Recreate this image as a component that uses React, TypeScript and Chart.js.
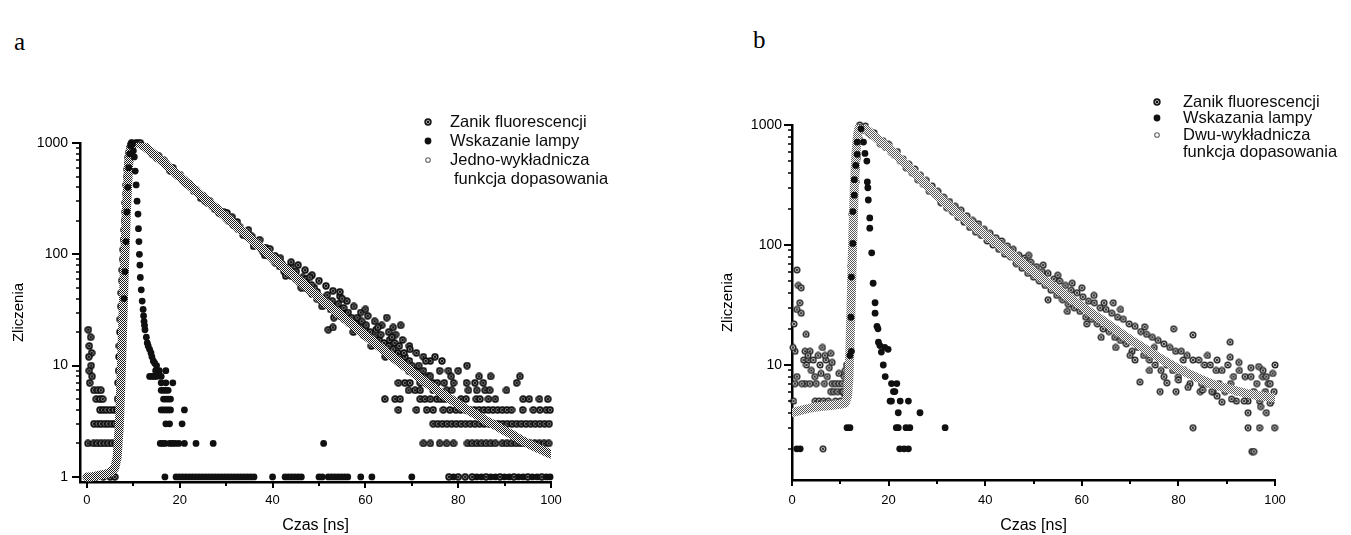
import React, { useEffect, useRef } from "react";
import { Chart, registerables } from "chart.js";

Chart.register(...registerables);
Chart.defaults.font.family = '"Liberation Sans", Arial, sans-serif';
Chart.defaults.color = "#000";

// ---------------- shared tick / label data ----------------
const xTickLabels = [0, 20, 40, 60, 80, 100];
const xMinorTicks = [10, 30, 50, 70, 90];
const yTickLabelsA = [1, 10, 100, 1000];
const yTickLabelsB = [10, 100, 1000];
const yMinorTicksA = [2, 3, 4, 5, 6, 7, 8, 9, 20, 30, 40, 50, 60, 70, 80, 90, 200, 300, 400, 500, 600, 700, 800, 900];
const yMinorTicksB = [2, 3, 4, 5, 6, 7, 8, 9, 20, 30, 40, 50, 60, 70, 80, 90, 200, 300, 400, 500, 600, 700, 800, 900];
const xTitle = "Czas [ns]";
const yTitle = "Zliczenia";
const legendA = ["Zanik fluorescencji", "Wskazanie lampy", "Jedno-wykładnicza", "funkcja dopasowania"];
const legendB = ["Zanik fluorescencji", "Wskazania lampy", "Dwu-wykładnicza", "funkcja dopasowania"];

// ---------------- panel a data ----------------
const fitA: [number, number][] = [
  [0, 1.0], [1, 1.0], [2, 1.02], [3, 1.04], [4, 1.06], [5, 1.1], [6, 1.2], [6.5, 1.5], [7, 3], [7.5, 12], [8, 60],
  [8.5, 250], [9, 650], [9.5, 920], [10, 1000], [11, 1000], [12, 960], [13, 890], [14, 820], [16, 700], [18, 590],
  [20, 500], [22, 420], [24, 355], [26, 300], [28, 255], [30, 215], [32, 182], [34, 155], [36, 130], [38, 110],
  [40, 93], [42, 79], [44, 67], [46, 57], [48, 48], [50, 41], [52, 35], [54, 30], [56, 25.5], [58, 21.8], [60, 18.6],
  [62, 16], [64, 13.7], [66, 11.8], [68, 10.2], [70, 8.8], [72, 7.6], [74, 6.6], [76, 5.8], [78, 5.1], [80, 4.5],
  [82, 4], [84, 3.6], [86, 3.2], [88, 2.9], [90, 2.6], [92, 2.35], [94, 2.1], [96, 1.9], [98, 1.75], [100, 1.6],
];

const decayA: [number, number][] = [
  [0.3, 21], [0.8, 18], [0.5, 15], [1, 13], [0.4, 12], [0.9, 10], [0.5, 9], [1.1, 8], [0.6, 7],
  [1.5, 6], [2.3, 6], [3, 6], [2, 5], [2.8, 5], [3.4, 5],
  [2.8, 4], [3.5, 4], [4.2, 4], [5, 4], [5.8, 4], [6.5, 4],
  [1.5, 3], [2.3, 3], [3, 3], [3.8, 3], [4.5, 3], [5.3, 3], [6, 3], [6.8, 3],
  [0.2, 2], [1.4, 2], [2.2, 2], [3, 2], [3.8, 2], [4.6, 2], [5.4, 2], [6.2, 2],
  [1, 1], [2, 1], [3.5, 1], [5, 1], [6, 1],
  [6.6, 5], [6.7, 7], [6.8, 9], [6.9, 12], [7, 15], [7.1, 20], [7.2, 26], [7.3, 34], [7.4, 45], [7.5, 58],
  [7.6, 72], [7.7, 90], [7.8, 110], [7.9, 135], [8, 165], [8.1, 200], [8.2, 240], [8.3, 290], [8.4, 350],
  [8.5, 420], [8.6, 500], [8.7, 580], [8.8, 660], [8.9, 740], [9, 820], [9.2, 900], [9.4, 960], [9.6, 990],
  [10, 980], [10.5, 1000], [11, 990], [11.5, 1000], [12, 940], [12.5, 930], [13, 880], [13.5, 850], [14, 800],
  [14.5, 790], [15, 740], [15.5, 760], [16, 690], [16.5, 700], [17, 660], [17.5, 610], [18, 560], [18.5, 600],
  [19, 530], [19.5, 510], [20, 520], [20.5, 470], [21, 450], [21.5, 430], [22, 430], [22.5, 400], [23, 370],
  [23.5, 380], [24, 350], [24.5, 320], [25, 335], [25.5, 300], [26, 290], [26.5, 300], [27, 270], [27.5, 255],
  [28, 260], [28.5, 235], [29, 230], [29.5, 240], [30, 210], [30.5, 200], [31, 205], [31.5, 185], [32, 180],
  [32.5, 170], [33, 175], [33.5, 160], [34, 150], [34.5, 145], [35, 140], [35.5, 145], [36, 125], [36.5, 122],
  [37, 125], [37.5, 112], [38, 105], [38.5, 115], [39, 98], [39.5, 95], [40, 90], [40.5, 97], [41, 84], [41.5, 78],
  [42, 82], [42.5, 70], [43, 75], [43.5, 66], [44, 64], [44.5, 70], [45, 60], [45.5, 58], [46, 55], [46.5, 62],
  [47, 50], [47.5, 53], [48, 47], [48.5, 44], [49, 50], [49.5, 40], [50, 42], [50.5, 38], [51, 40], [51.5, 35],
  [52, 37], [52.5, 32], [53, 34], [53.5, 30], [54, 33], [54.5, 28], [55, 30], [55.5, 26], [56, 28], [56.5, 24],
  [57, 27], [57.5, 22], [58, 24], [58.5, 21], [59, 23], [59.5, 19], [60, 21], [60.5, 18], [61, 20], [61.5, 17],
  [62, 18], [62.5, 16], [63, 17], [63.5, 15], [64, 16], [64.5, 14], [65, 15], [65.5, 13], [66, 14], [66.5, 12],
  [67, 13], [67.5, 12], [68, 11], [68.5, 12], [69, 10], [69.5, 11], [70, 10],
  [30.2, 235], [31.3, 215], [32.4, 195], [33.6, 150], [34.8, 165], [35.9, 118], [37.2, 135], [38.3, 98],
  [39.4, 112], [40.6, 84], [41.7, 92], [42.8, 64], [43.9, 78], [45.1, 70], [46.2, 50], [47.3, 60], [48.4, 53],
  [49.6, 46], [50.7, 34], [51.8, 43], [52.9, 38], [53.2, 27], [54.2, 36], [55.3, 33], [56.3, 30], [57.4, 20],
  [58.3, 27], [59.2, 25], [60.2, 23], [61.3, 15], [62.3, 21], [63.3, 19], [64.3, 12], [65.2, 17], [66.3, 16],
  [67.3, 15], [68.3, 13], [69.3, 9],
  [44, 85], [45.5, 80], [47, 72], [48.5, 65], [50, 58], [51.5, 52], [53, 47], [54.5, 42], [56, 38], [57.5, 34],
  [59, 30], [60.5, 28], [62, 25], [63.5, 23], [65, 20], [66.5, 19], [68, 17], [69.5, 15], [71, 13], [72.5, 12],
  [74, 11], [48, 62], [55, 40], [60, 32], [66, 22],
  [52, 21], [54.5, 46], [52, 35], [53, 22], [62.7, 22], [64.6, 27], [67.6, 23], [65.7, 18], [69.6, 14], [75, 12],
  [81.9, 10], [77.9, 9], [87, 8], [93.3, 8], [92.6, 7], [90.4, 6], [84.5, 8], [71, 9], [72, 8], [73.5, 8], [76.5, 11],
  [70.5, 9], [71.5, 10], [72.5, 9], [73, 11], [74, 8], [76, 9], [78.5, 8], [80, 9],
  [67.1, 7], [68.5, 7], [69.6, 7], [71.8, 7], [73, 7], [74.5, 7], [75.5, 7], [77, 7], [79, 7], [81.8, 7], [83.6, 7], [85.4, 7],
  [69.3, 6], [70.7, 6], [71.8, 6], [74.6, 6], [77.5, 6], [78.6, 6], [82.2, 6], [84, 6], [85.8, 6], [86.8, 6],
  [64.2, 5], [66.4, 5], [67.5, 5], [71.8, 5], [72.8, 5], [74, 5], [75.4, 5], [76.2, 5], [77, 5], [77.8, 5], [78.6, 5],
  [80.6, 5], [81.7, 5], [83.9, 5], [84.7, 5], [86.5, 5], [88, 5], [94, 5], [95.3, 5], [97.5, 5], [99.3, 5],
  [67.1, 4], [71, 4], [73.2, 4], [74.6, 4], [76.8, 4], [78.2, 4], [79.5, 4], [80.5, 4], [81.5, 4], [82.5, 4],
  [83.5, 4], [84.5, 4], [85.5, 4], [86.5, 4], [87.5, 4], [88.5, 4], [89.5, 4], [90.5, 4], [91.5, 4], [93.9, 4],
  [96.2, 4], [97.6, 4], [99, 4], [99.8, 4],
  [74.6, 3], [75.6, 3], [76.6, 3], [77.6, 3], [78.6, 3], [79.6, 3], [80.6, 3], [81.6, 3], [82.6, 3], [83.6, 3],
  [84.6, 3], [85.6, 3], [86.6, 3], [87.6, 3], [88.6, 3], [89.6, 3], [90.6, 3], [91.6, 3], [92.6, 3], [93.6, 3],
  [94.6, 3], [95.6, 3], [96.6, 3], [97.6, 3], [98.6, 3], [99.6, 3],
  [72.5, 2], [74, 2], [76, 2], [77.5, 2], [79, 2], [82, 2], [83, 2], [84, 2], [85, 2], [86, 2], [87, 2], [88, 2],
  [89.5, 2], [90.5, 2], [91.5, 2], [92.5, 2], [93.5, 2], [94.5, 2], [95.5, 2], [96.5, 2], [97.5, 2], [98.5, 2], [99.5, 2],
  [78, 1], [80, 1], [81.5, 1], [83, 1], [86, 1], [89, 1], [92, 1], [95, 1], [98, 1],
];

const lampA: [number, number][] = [
  [8, 40], [8.2, 70], [8.4, 130], [8.6, 240], [8.8, 400], [9, 600], [9.2, 800], [9.4, 950], [9.6, 1000], [9.8, 980],
  [10, 850], [10.2, 750], [10.4, 560], [10.6, 420], [10.8, 300], [11, 230], [11.1, 170], [11.2, 130], [11.3, 100],
  [11.4, 80], [11.5, 62], [11.7, 48], [11.9, 38], [12.1, 32], [12.2, 28], [12.3, 25], [12.4, 23], [12.5, 21],
  [12.8, 18], [13, 16], [13.2, 15], [13.5, 14], [13.8, 13], [14, 12], [14.3, 11], [14.6, 10.5], [15, 10], [14.8, 9], [15.6, 9],
  [13.5, 8], [14, 8], [14.5, 8], [15, 8], [16, 8], [17, 9], [16, 7], [17, 7], [18.5, 7], [16, 6], [16.5, 6], [17, 6],
  [17.5, 6], [16.5, 5], [17, 5], [17.5, 5], [18, 5], [16, 4], [16.5, 4], [17, 4], [17.5, 4], [18, 4], [21, 4],
  [17, 3], [17.8, 3], [20.5, 3], [15.8, 2], [16.3, 2], [16.8, 2], [17.8, 2], [18.4, 2], [19, 2], [19.8, 2], [21, 2],
  [23.5, 2], [27.2, 2], [51, 2],
  [16.8, 1], [19.2, 1], [19.9, 1], [20.6, 1], [21.3, 1], [22, 1], [22.7, 1], [23.4, 1], [24.1, 1], [24.8, 1],
  [25.5, 1], [26.2, 1], [26.9, 1], [27.6, 1], [28.3, 1], [29, 1], [29.7, 1], [30.4, 1], [31.1, 1], [31.8, 1],
  [32.5, 1], [33.2, 1], [33.9, 1], [34.6, 1], [35.3, 1], [36, 1], [40, 1], [42.7, 1], [43.4, 1], [44.1, 1],
  [44.8, 1], [45.5, 1], [46.2, 1], [50, 1], [50.7, 1], [52, 1], [52.7, 1], [53.4, 1], [54.1, 1], [54.8, 1],
  [55.5, 1], [56.2, 1], [59, 1], [61.4, 1], [70, 1], [79, 1], [84, 1], [85, 1], [87, 1], [88, 1], [90, 1],
  [91, 1], [93, 1], [94, 1], [96, 1], [97, 1], [99, 1], [99.8, 1],
];

// ---------------- panel b data ----------------
const fitB: [number, number][] = [
  [0, 4], [2, 4.2], [4, 4.4], [6, 4.5], [8, 4.6], [10, 4.7], [11, 4.8], [11.5, 5.5], [11.8, 8], [12, 14],
  [12.3, 40], [12.6, 120], [12.9, 300], [13.2, 550], [13.5, 780], [13.8, 930], [14.2, 1000], [14.8, 960],
  [15.5, 910], [16, 880], [17, 810], [18, 750], [19, 690], [20, 650], [22, 540], [24, 450], [26, 375], [28, 310],
  [30, 260], [32, 220], [34, 188], [36, 162], [38, 140], [40, 122], [42, 106], [44, 92], [46, 80], [48, 69],
  [50, 60], [52, 52], [54, 45.5], [56, 40], [58, 35], [60, 31], [62, 27], [64, 24], [66, 21], [68, 18.5],
  [70, 16.3], [72, 14.5], [74, 12.9], [76, 11.5], [78, 10.3], [80, 9.3], [82, 8.5], [84, 7.8], [86, 7.2],
  [88, 6.7], [90, 6.4], [92, 6.1], [94, 5.8], [96, 5.6], [98, 5.45], [100, 5.3],
];

const decayB: [number, number][] = [
  [0.4, 22], [0.6, 13], [1, 62], [1, 29], [1.3, 46], [1.6, 33], [1.9, 44], [1.9, 27], [2.9, 18], [2.7, 13],
  [3.7, 13], [2.4, 11], [3.4, 11], [4.4, 11], [5.4, 12], [6.3, 14], [8, 12.5], [8.3, 10.5], [7, 11], [4, 9],
  [4.7, 8], [6, 8.5], [7.7, 9.5], [9.7, 8.5], [0.6, 7], [2.7, 7], [3.7, 7], [5, 7], [6.7, 7], [8.3, 7], [9, 7],
  [9.7, 7], [10.4, 7], [8, 6], [8.6, 6], [9.4, 6], [10.3, 6], [4.8, 5], [5.6, 5], [6.5, 5], [7.5, 5], [9, 5],
  [10, 5], [11, 5.5], [0.3, 5], [2, 7], [3, 10], [5.8, 10], [7.3, 8], [10.8, 8], [11, 9], [10.6, 6], [11.3, 10],
  [6.4, 2], [1, 8], [0.2, 14], [3.3, 12], [6.8, 12],
  [11.6, 7], [11.8, 10], [12, 12], [12, 20], [12.2, 33], [12.3, 50], [12.3, 67], [12.5, 95], [12.6, 106],
  [12.5, 180], [12.9, 180], [12.9, 240], [13.2, 335], [13.3, 430], [13.5, 530], [13.5, 690], [13.8, 780],
  [13.8, 930], [14, 1000],
  [14.6, 900], [15.2, 980], [15.8, 860], [16.4, 820], [17, 860], [17.6, 760], [18.2, 700], [18.8, 740], [19.4, 650],
  [20, 690], [20.6, 590], [21.2, 560], [21.8, 600], [22.4, 500], [23, 520], [23.6, 440], [24.2, 470], [24.8, 400],
  [25.4, 430], [26, 350], [26.6, 380], [27.2, 320], [27.8, 345], [28.4, 280], [29, 310], [29.6, 265], [30.2, 280],
  [30.8, 225], [31.4, 250], [32, 205], [32.6, 230], [33.2, 190], [33.8, 210], [34.4, 170], [35, 195], [35.6, 155],
  [36.2, 175], [36.8, 140], [37.4, 160], [38, 128], [38.6, 150], [39.2, 120], [39.8, 135], [40.4, 108], [41, 125],
  [41.6, 100], [42.2, 115], [42.8, 92], [43.4, 108], [44, 84], [44.6, 98], [45.2, 80], [45.8, 92], [46.4, 70],
  [47, 82], [47.6, 64], [48.2, 78], [48.8, 58], [49.4, 72], [50, 54], [50.6, 66], [51.2, 50], [51.8, 60],
  [52.4, 46], [53, 58], [53.6, 42], [54.2, 52], [54.8, 38], [55.4, 50], [56, 35], [56.6, 46], [57.2, 32],
  [57.8, 42], [58.4, 30], [59, 40], [59.6, 28], [60.2, 37], [60.8, 25], [61.4, 34], [62, 24], [62.6, 33],
  [63.2, 22], [63.8, 30], [64.4, 20], [65, 29], [65.6, 19], [66.2, 27], [66.8, 17], [67.4, 25], [68, 16],
  [68.6, 24], [69.2, 15], [69.8, 22], [70.4, 13], [71, 21], [71.6, 14], [72.2, 19], [72.8, 12], [73.4, 18],
  [74, 11], [74.6, 17], [75.2, 10], [75.8, 16], [76.4, 9], [77, 15], [77.6, 10], [78.2, 14], [78.8, 9], [79.4, 13],
  [80, 8], [80.6, 13], [81.2, 9], [81.8, 12], [82.4, 7], [83, 11], [83.6, 8], [84.2, 11], [84.8, 7], [85.4, 10],
  [86, 7], [86.6, 10], [87.2, 6], [87.8, 9], [88.4, 7], [89, 9], [89.6, 6], [90.2, 10], [90.8, 7], [91.4, 8],
  [92, 6], [92.6, 9], [93.2, 6], [93.8, 8], [94.4, 5], [95, 8], [95.6, 6], [96.2, 7], [96.8, 5], [97.4, 8],
  [98, 6], [98.6, 7], [99.2, 5], [99.8, 6],
  [49, 82], [52, 68], [55, 56], [58, 48], [60, 44], [62.5, 38], [64.6, 33], [66.5, 33], [68, 29], [71, 11],
  [72, 7.2], [73, 20.8], [76.2, 6], [77.6, 7.1], [79, 20], [79.5, 6], [83, 17.8], [83, 3], [84.5, 6], [86.9, 6],
  [89, 4.9], [90.7, 11.6], [90.7, 15.5], [92, 5], [93.6, 5], [94.4, 4], [94.4, 3], [95.2, 1.9], [95.6, 1.9],
  [96.6, 9.7], [96.8, 3], [98.2, 4], [98.2, 8], [99, 7], [99.9, 3], [100, 10], [75, 14], [81, 11], [86, 12],
  [88, 11], [92.5, 10.5], [95, 9.5], [97.5, 9], [99.5, 8.5], [53, 35], [57, 28], [61, 22], [64, 17], [67, 14],
  [70, 12], [74, 9], [77, 8], [80, 7.5], [82, 6.5], [85, 6.2], [88, 5.5], [91, 5.2], [94, 5.6], [97, 4.5], [99, 4.8],
];

const lampB: [number, number][] = [
  [1, 2], [1.7, 2], [11.4, 3], [12, 3], [12, 12], [12.2, 25], [12.3, 13], [12.3, 54], [12.6, 103], [12.6, 190],
  [12.9, 260], [12.9, 350], [13.2, 460], [13.5, 570], [13.5, 720], [14.3, 930], [14.8, 720], [15.1, 580],
  [15.5, 500], [15.6, 335], [15.7, 300], [15.8, 237], [16.1, 168], [16.1, 138], [16.5, 86], [16.8, 48],
  [17.2, 33], [17.2, 27], [17.6, 21], [17.8, 20], [17.9, 15.5], [18.2, 14.5], [18.5, 12.8], [19.2, 14],
  [19.9, 13.5], [18.9, 10], [19.3, 8], [20.6, 7], [21.7, 7], [21, 6], [21.3, 6], [20.3, 5], [20.6, 5],
  [22.4, 5], [24.1, 5], [22, 4], [26.5, 4], [21.6, 3], [22, 3], [23.6, 3], [24.4, 3], [31.7, 3],
  [22.3, 2], [23.2, 2], [24.1, 2],
];

// ---------------- helpers ----------------
type Pair = [number, number];
const toPts = (a: Pair[]) => a.map(([x, y]) => ({ x, y }));

function makeDecaySymbol(dark: boolean): HTMLCanvasElement {
  const c = document.createElement("canvas");
  c.width = 8;
  c.height = 8;
  const g = c.getContext("2d")!;
  g.fillStyle = dark ? "#8a8a8a" : "#b8b8b8";
  g.strokeStyle = dark ? "#0e0e0e" : "#1e1e1e";
  g.lineWidth = dark ? 1.6 : 1.3;
  g.beginPath();
  g.arc(4, 4, 2.9, 0, Math.PI * 2);
  g.fill();
  g.stroke();
  g.lineWidth = 1;
  g.strokeStyle = dark ? "#111" : "#333";
  g.beginPath();
  g.moveTo(2.6, 2.6);
  g.lineTo(5.4, 5.4);
  g.moveTo(5.4, 2.6);
  g.lineTo(2.6, 5.4);
  g.stroke();
  return c;
}

function makeBandPattern(ctx: CanvasRenderingContext2D, dark: boolean): CanvasPattern {
  const c = document.createElement("canvas");
  c.width = 2;
  c.height = 2;
  const g = c.getContext("2d")!;
  g.fillStyle = "#ffffff";
  g.fillRect(0, 0, 2, 2);
  g.fillStyle = dark ? "#1e1e1e" : "#5a5a5a";
  g.fillRect(0, 0, 1, 1);
  g.fillRect(1, 1, 1, 1);
  return ctx.createPattern(c, "repeat")!;
}

type PanelSpec = {
  fit: Pair[];
  decay: Pair[];
  lamp: Pair[];
  legend: string[];
  dark: boolean;
  xMin: number;
  yMin: number;
  yTicks: number[];
  yMinor: number[];
  yAxisW: number;
  xAxisH: number;
  padTop: number;
  padRight: number;
  yLabelPad: number;
  xLabelPad: number;
  yTitlePad: number;
  bandW: number;
};

function tickMarks(p: PanelSpec) {
  return {
    id: "tickMarks",
    afterDraw(chart: any) {
      const { ctx, chartArea } = chart;
      const xs = chart.scales.x;
      const ys = chart.scales.y;
      ctx.save();
      ctx.strokeStyle = "#000";
      ctx.lineWidth = 2;
      ctx.beginPath();
      for (const v of xTickLabels) {
        const px = Math.round(xs.getPixelForValue(v));
        ctx.moveTo(px, chartArea.bottom);
        ctx.lineTo(px, chartArea.bottom + 6);
      }
      for (const v of xMinorTicks) {
        const px = Math.round(xs.getPixelForValue(v));
        ctx.moveTo(px, chartArea.bottom);
        ctx.lineTo(px, chartArea.bottom + 4);
      }
      for (const v of p.yTicks) {
        const py = Math.round(ys.getPixelForValue(v));
        ctx.moveTo(chartArea.left, py);
        ctx.lineTo(chartArea.left - 8, py);
      }
      ctx.stroke();
      ctx.lineWidth = 1.5;
      ctx.beginPath();
      for (const v of p.yMinor) {
        if (v < p.yMin) continue;
        const py = Math.round(ys.getPixelForValue(v));
        ctx.moveTo(chartArea.left, py);
        ctx.lineTo(chartArea.left - 4, py);
      }
      ctx.stroke();
      ctx.restore();
    },
  };
}

function buildChart(canvas: HTMLCanvasElement, p: PanelSpec) {
  const ctx = canvas.getContext("2d")!;
  const pattern = makeBandPattern(ctx, p.dark);
  const decaySym = makeDecaySymbol(p.dark);
  return new Chart(canvas, {
    type: "scatter",
    data: {
      datasets: [
        {
          label: p.legend[1],
          data: toPts(p.lamp),
          pointStyle: "circle",
          pointRadius: 3.4,
          backgroundColor: "#101010",
          borderWidth: 0,
          order: 0,
          clip: false,
        },
        {
          label: p.legend[2] + " " + p.legend[3],
          data: toPts(p.fit),
          showLine: true,
          borderColor: pattern,
          borderWidth: p.bandW,
          borderCapStyle: "round",
          borderJoinStyle: "round",
          tension: 0,
          pointRadius: 0,
          order: 1,
        },
        {
          label: p.legend[0],
          data: toPts(p.decay),
          pointStyle: decaySym,
          pointRadius: 4,
          order: 2,
          clip: false,
        },
      ] as any,
    },
    options: {
      animation: false,
      responsive: false,
      devicePixelRatio: 1,
      events: [],
      layout: { padding: { left: 0, right: p.padRight, top: p.padTop, bottom: 0 } },
      plugins: { legend: { display: false }, tooltip: { enabled: false } },
      scales: {
        x: {
          type: "linear",
          min: p.xMin,
          max: 100,
          afterBuildTicks: (s: any) => {
            s.ticks = xTickLabels.map((v) => ({ value: v }));
          },
          afterFit: (s: any) => {
            s.height = p.xAxisH;
          },
          ticks: {
            autoSkip: false,
            maxRotation: 0,
            padding: p.xLabelPad,
            font: { size: 13 },
            color: "#000",
            callback: (v: any) => String(v),
          },
          grid: { display: false, drawTicks: false },
          border: { display: true, color: "#000", width: 2.5 },
          title: {
            display: true,
            text: xTitle,
            font: { size: 16 },
            color: "#000",
            padding: { top: 0, bottom: 0 },
          },
        },
        y: {
          type: "logarithmic",
          min: p.yMin,
          max: 1000,
          afterBuildTicks: (s: any) => {
            s.ticks = p.yTicks.map((v) => ({ value: v }));
          },
          afterFit: (s: any) => {
            s.width = p.yAxisW;
          },
          ticks: {
            autoSkip: false,
            padding: p.yLabelPad,
            font: { size: 14 },
            color: "#000",
            callback: (v: any) => String(v),
          },
          grid: { display: false, drawTicks: false },
          border: { display: true, color: "#000", width: 2.5 },
          title: {
            display: true,
            text: yTitle,
            font: { size: 15 },
            color: "#000",
            padding: { top: p.yTitlePad, bottom: 0 },
          },
        },
      },
    } as any,
    plugins: [tickMarks(p)],
  });
}

const panelA: PanelSpec = {
  fit: fitA,
  decay: decayA,
  lamp: lampA,
  legend: legendA,
  dark: true,
  xMin: -1.5,
  yMin: 0.9,
  yTicks: yTickLabelsA,
  yMinor: yMinorTicksA,
  yAxisW: 80,
  xAxisH: 53,
  padTop: 43,
  padRight: 89,
  yLabelPad: 12,
  xLabelPad: 11,
  yTitlePad: 10,
  bandW: 9,
};

const panelB: PanelSpec = {
  fit: fitB,
  decay: decayB,
  lamp: lampB,
  legend: legendB,
  dark: false,
  xMin: 0,
  yMin: 1.1,
  yTicks: yTickLabelsB,
  yMinor: yMinorTicksB,
  yAxisW: 92,
  xAxisH: 55,
  padTop: 45,
  padRight: 76,
  yLabelPad: 10,
  xLabelPad: 13,
  yTitlePad: 19,
  bandW: 9,
};

function DecayIcon() {
  return (
    <svg width="10" height="10" viewBox="0 0 10 10">
      <circle cx="5" cy="5" r="3" fill="#999" stroke="#111" strokeWidth="1.4" />
      <path d="M3.5 3.5 L6.5 6.5 M6.5 3.5 L3.5 6.5" stroke="#111" strokeWidth="1" />
    </svg>
  );
}
function LampIcon() {
  return (
    <svg width="10" height="10" viewBox="0 0 10 10">
      <circle cx="5" cy="5" r="3.4" fill="#101010" />
    </svg>
  );
}
function FitIcon() {
  return (
    <svg width="10" height="10" viewBox="0 0 10 10">
      <circle cx="5" cy="5" r="2.3" fill="none" stroke="#666" strokeWidth="1.1" />
    </svg>
  );
}

function Legend(props: { names: string[]; symX: number; textX: number; ys: number[]; indent: number }) {
  const { names, symX, textX, ys, indent } = props;
  const icons = [<DecayIcon />, <LampIcon />, <FitIcon />];
  const textStyle: React.CSSProperties = {
    position: "absolute",
    fontFamily: '"Liberation Sans", Arial, sans-serif',
    fontSize: 16.5,
    lineHeight: "19px",
    color: "#0c0c0c",
    whiteSpace: "nowrap",
  };
  return (
    <>
      {icons.map((ic, i) => (
        <div key={"s" + i} style={{ position: "absolute", left: symX - 5, top: ys[i] - 5, width: 10, height: 10, lineHeight: 0 }}>
          {ic}
        </div>
      ))}
      {names.map((n, i) => (
        <div key={"t" + i} style={{ ...textStyle, left: textX + (i === 3 ? indent : 0), top: ys[i] - 10 }}>
          {n}
        </div>
      ))}
    </>
  );
}

export default function App() {
  const refA = useRef<HTMLCanvasElement>(null);
  const refB = useRef<HTMLCanvasElement>(null);

  useEffect(() => {
    const a = buildChart(refA.current!, panelA);
    const b = buildChart(refB.current!, panelB);
    return () => {
      a.destroy();
      b.destroy();
    };
  }, []);

  const letter: React.CSSProperties = {
    position: "absolute",
    fontFamily: '"Liberation Serif", "Times New Roman", serif',
    fontSize: 25,
    lineHeight: "25px",
    color: "#000",
  };

  return (
    <div style={{ position: "fixed", left: 0, top: 0, width: 1351, height: 535, background: "#fff", overflow: "hidden" }}>
      <div style={{ ...letter, left: 14, top: 29 }}>a</div>
      <div style={{ ...letter, left: 753, top: 27 }}>b</div>
      <canvas ref={refA} width={640} height={435} style={{ position: "absolute", left: 0, top: 100, width: 640, height: 435 }} />
      <canvas ref={refB} width={651} height={455} style={{ position: "absolute", left: 700, top: 80, width: 651, height: 455 }} />
      <Legend names={legendA} symX={428} textX={450} ys={[122, 141, 160, 179]} indent={4} />
      <Legend names={legendB} symX={1157} textX={1183} ys={[102, 118, 135, 152]} indent={0} />
    </div>
  );
}
